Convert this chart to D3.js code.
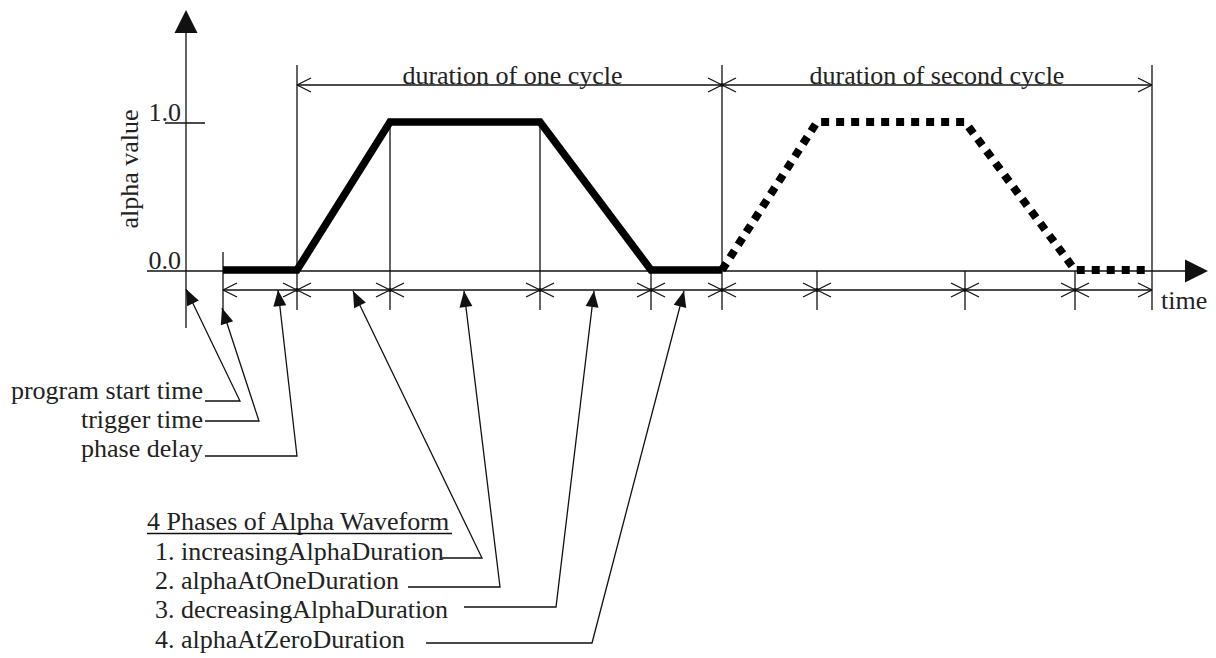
<!DOCTYPE html>
<html><head><meta charset="utf-8">
<script src="https://cdn.jsdelivr.net/npm/d3@7"></script>
<style>
html,body{margin:0;padding:0;background:#fff;}
svg{display:block;}
text{font-family:"Liberation Serif","Times New Roman",serif;font-size:26px;fill:#222;}
</style>
</head><body><svg id="c" width="1216" height="658"></svg>
<script>
// ---- data ----
const phaseNames = ["increasingAlphaDuration","alphaAtOneDuration","decreasingAlphaDuration","alphaAtZeroDuration"];
const legendTitle = "4 Phases of Alpha Waveform";
const cycleLabels = ["duration of one cycle","duration of second cycle"];
const eventLabels = ["program start time","trigger time","phase delay"];
const eventTimes = [0, 3.7, 11.1];           // program start, trigger, end of phase delay
const eventPointerTimes = [0, 3.6, 9.2];
const cycle1Times = [11.1, 20.4, 35.4, 46.5, 53.6];
const cycle2Times = [53.6, 63.1, 77.9, 88.9, 96.6];
const cycleAlpha = [0, 1, 1, 0, 0];
const phasePointerTimes = [16.7, 27.8, 40.8, 49.8];
const yTickValues = [0, 1];
const yTickLabels = ["0.0", "1.0"];
const yAxisLabel = "alpha value";
const xAxisLabel = "time";

// ---- layout ----
const svg = d3.select("#c");
const x = d3.scaleLinear().domain([0, 100]).range([186, 1186]);
const y = d3.scaleLinear().domain([0, 1]).range([271, 123]);
const ink = "#111", lw = 1.3;
const dimTopY = 85, dimBotY = 290, extBot = 310;

function line(x1,y1,x2,y2){ svg.append("line").attr("x1",x1).attr("y1",y1).attr("x2",x2).attr("y2",y2).attr("stroke",ink).attr("stroke-width",lw); }
function tri(pts){ svg.append("path").attr("d","M"+pts.map(p=>p.join(",")).join("L")+"Z").attr("fill",ink); }
function star(cx,cy){ line(cx-14,cy-7,cx+14,cy+7); line(cx-14,cy+7,cx+14,cy-7); svg.append("circle").attr("cx",cx).attr("cy",cy).attr("r",2).attr("fill",ink); }
function openL(cx,cy){ line(cx,cy,cx+14,cy-7); line(cx,cy,cx+14,cy+7); }
function openR(cx,cy){ line(cx,cy,cx-14,cy-7); line(cx,cy,cx-14,cy+7); }
function headAt(tip, from){ const dx=from[0]-tip[0], dy=from[1]-tip[1], L=Math.hypot(dx,dy); const ux=dx/L, uy=dy/L; const bx=tip[0]+ux*16, by=tip[1]+uy*16; const nx=-uy*6.5, ny=ux*6.5; tri([tip,[bx+nx,by+ny],[bx-nx,by-ny]]); }

// axes
const x0 = x(0), yZero = y(0);
line(x0, 30, x0, 328);
tri([[x0,10],[x0-11.5,33],[x0+11.5,33]]);
line(147, yZero, 1186, yZero);
tri([[1208,yZero],[1185,yZero-11.5],[1185,yZero+11.5]]);
line(165, y(1), 205, y(1));
yTickValues.forEach((v,i)=>{
  svg.append("text").attr("x",181).attr("y",y(v)-2).attr("text-anchor","end").text(yTickLabels[i]);
});
svg.append("text").attr("transform","translate(138,169) rotate(-90)").attr("text-anchor","middle").text(yAxisLabel);
svg.append("text").attr("x",1161).attr("y",309).text(xAxisLabel);

// extension lines
const tTrig = eventTimes[1];
line(x(tTrig), 252, x(tTrig), 323);
[cycle1Times[0], cycle1Times[4], cycle2Times[4]].forEach(t=>line(x(t), 65, x(t), extBot));
[cycle1Times[1], cycle1Times[2]].forEach(t=>line(x(t), y(1), x(t), extBot));
[cycle1Times[3], cycle2Times[1], cycle2Times[2], cycle2Times[3]].forEach(t=>line(x(t), yZero, x(t), extBot));

// dimension lines
line(x(cycle1Times[0]), dimTopY, x(cycle2Times[4]), dimTopY);
openL(x(cycle1Times[0]), dimTopY); star(x(cycle1Times[4]), dimTopY); openR(x(cycle2Times[4]), dimTopY);
svg.append("text").attr("x",(x(cycle1Times[0])+x(cycle1Times[4]))/2+3).attr("y",dimTopY-1).attr("text-anchor","middle").text(cycleLabels[0]);
svg.append("text").attr("x",(x(cycle2Times[0])+x(cycle2Times[4]))/2).attr("y",dimTopY-1).attr("text-anchor","middle").text(cycleLabels[1]);

line(x(tTrig), dimBotY, x(cycle2Times[4]), dimBotY);
openL(x(tTrig), dimBotY); openR(x(cycle2Times[4]), dimBotY);
cycle1Times.concat(cycle2Times.slice(1,4)).forEach(t=>star(x(t), dimBotY));

// waveform
const wave = d3.line().x(d=>x(d[0])).y(d=>y(d[1]));
const w1 = [[tTrig,0]].concat(cycle1Times.map((t,i)=>[t,cycleAlpha[i]]));
const w2 = cycle2Times.map((t,i)=>[i===4? t-0.2 : t, cycleAlpha[i]]);
svg.append("path").attr("d",wave(w1)).attr("fill","none").attr("stroke","#000").attr("stroke-width",7.5).attr("stroke-linejoin","miter").attr("transform","translate(0,-1)");
svg.append("path").attr("d",wave(w2)).attr("fill","none").attr("stroke","#000").attr("stroke-width",8).attr("stroke-dasharray","8,7").attr("transform","translate(0,-1)");

// event annotations
const eventLayout = [
  {tipY:289, elbow:[240,401], textY:399},
  {tipY:308, elbow:[259,421], textY:428},
  {tipY:290, elbow:[297,456], textY:457}
];
eventLabels.forEach((lab,i)=>{
  const L = eventLayout[i];
  const tip = [x(eventPointerTimes[i]), L.tipY];
  svg.append("path").attr("d",`M${tip[0]},${tip[1]}L${L.elbow[0]},${L.elbow[1]}L205,${L.elbow[1]}`).attr("fill","none").attr("stroke",ink).attr("stroke-width",lw);
  headAt(tip, L.elbow);
  svg.append("text").attr("x",203).attr("y",L.textY).attr("text-anchor","end").text(lab);
});

// legend
svg.append("text").attr("x",147).attr("y",530).text(legendTitle);
line(147, 533.5, 452, 533.5);
const phaseLayout = [
  {elbow:[482,558], lineStart:442, textY:560},
  {elbow:[500,587], lineStart:408, textY:589},
  {elbow:[556,607], lineStart:464, textY:618},
  {elbow:[592,643], lineStart:426, textY:648}
];
phaseNames.forEach((n,i)=>{
  const L = phaseLayout[i];
  const tip = [x(phasePointerTimes[i]), 291];
  svg.append("path").attr("d",`M${tip[0]},${tip[1]}L${L.elbow[0]},${L.elbow[1]}L${L.lineStart},${L.elbow[1]}`).attr("fill","none").attr("stroke",ink).attr("stroke-width",lw);
  headAt(tip, L.elbow);
  svg.append("text").attr("x",155).attr("y",L.textY).text((i+1)+". "+n);
});
</script>
</body></html>
